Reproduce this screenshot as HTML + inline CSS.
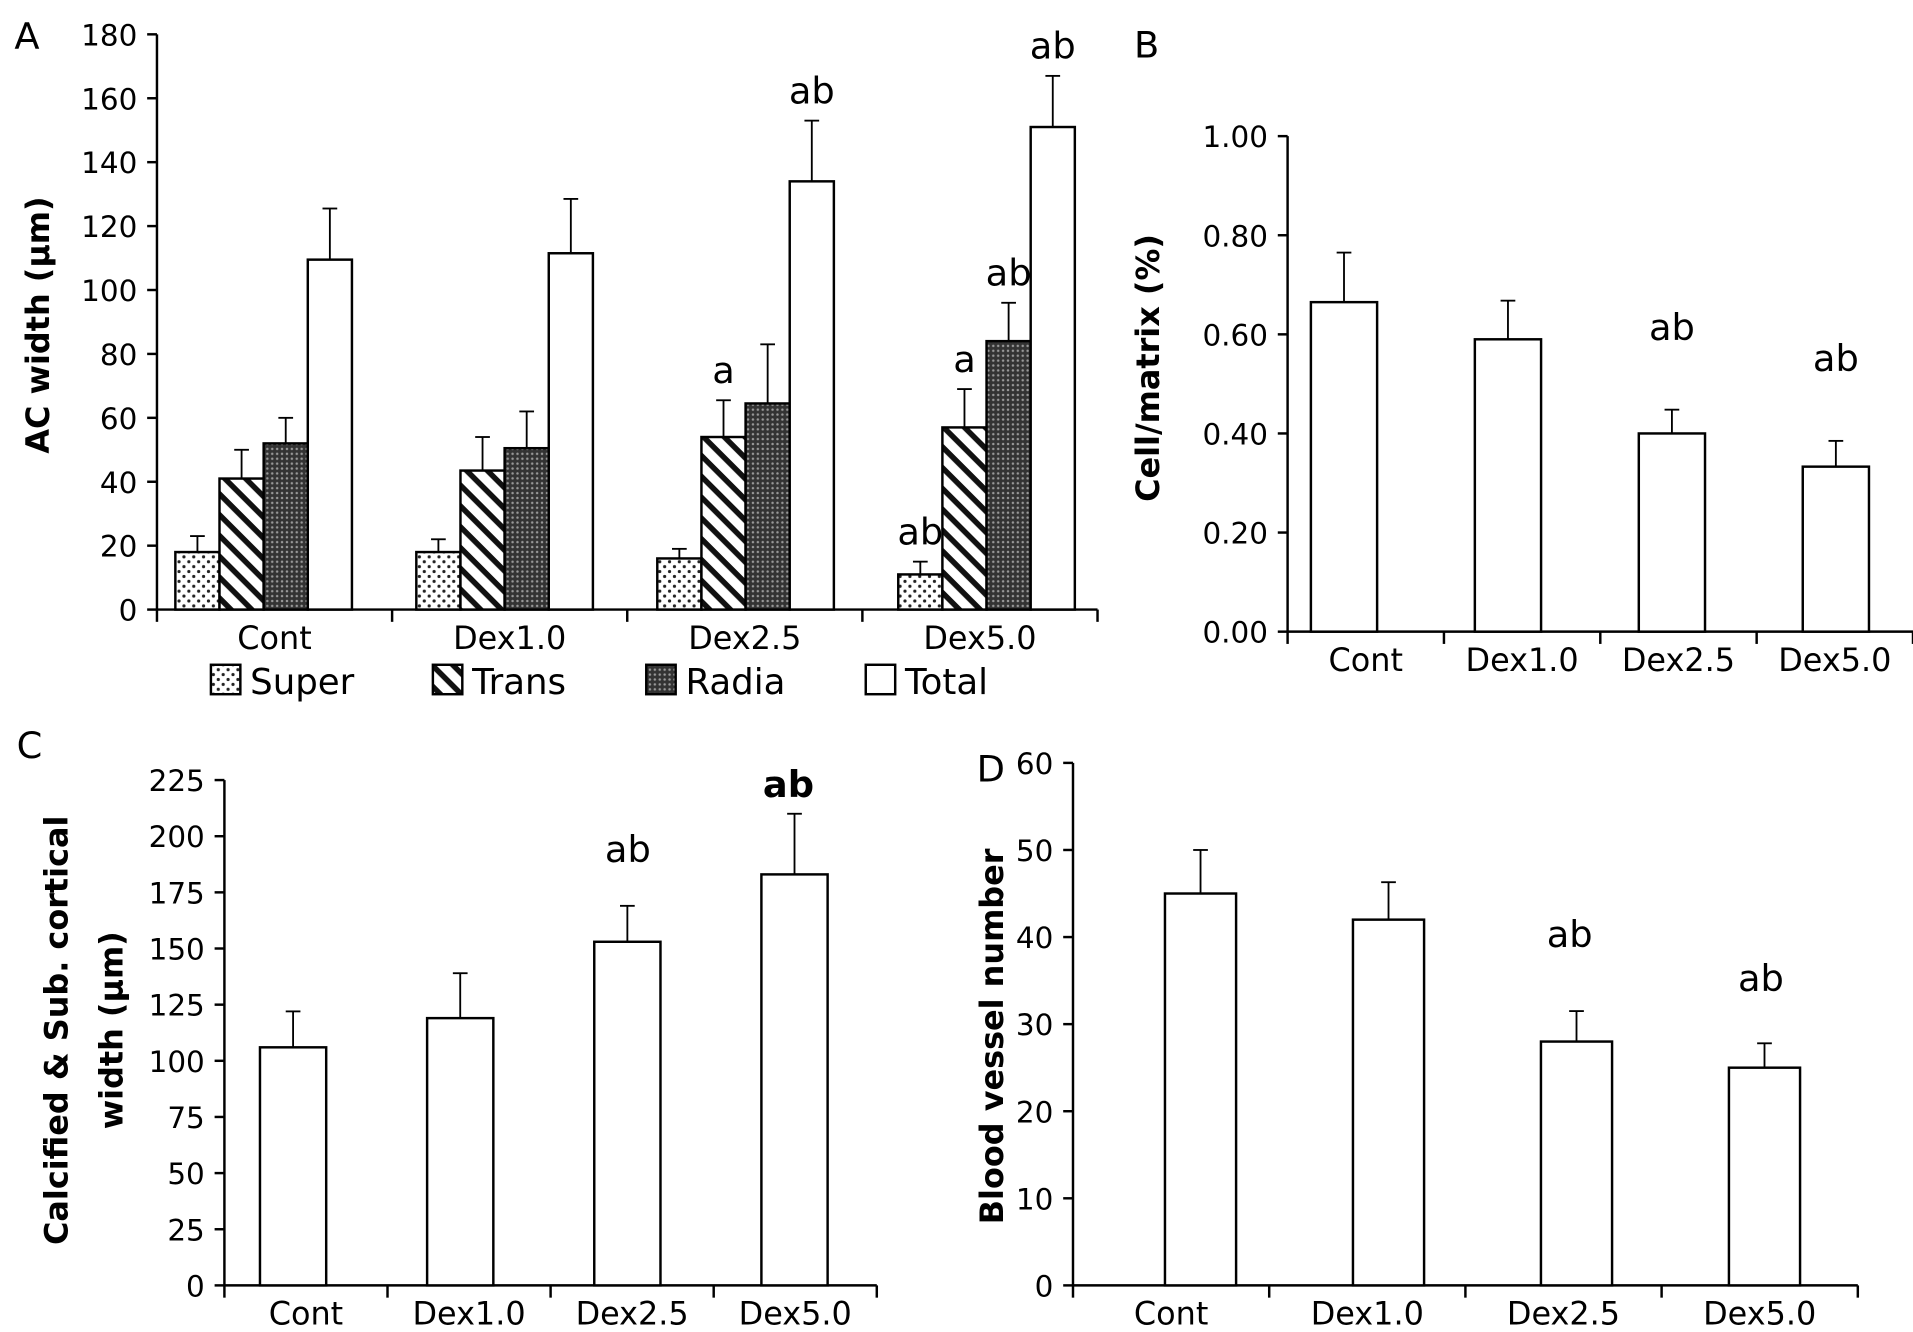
<!DOCTYPE html>
<html><head><meta charset="utf-8"><style>
html,body{margin:0;padding:0;background:#fff;}
svg{display:block;font-family:"DejaVu Sans","Liberation Sans",sans-serif;}
</style></head><body>
<svg id="fig" width="1913" height="1332" viewBox="0 0 1560 1086" preserveAspectRatio="none" xmlns="http://www.w3.org/2000/svg">
<defs>
<pattern id="pDots" width="8" height="8" patternUnits="userSpaceOnUse"><rect width="8" height="8" fill="#fff"/><circle cx="2" cy="2" r="1.3" fill="#222"/><circle cx="6" cy="6" r="1.3" fill="#222"/></pattern>
<pattern id="pDiag" width="12" height="12" patternUnits="userSpaceOnUse" patternTransform="rotate(45)"><rect width="12" height="12" fill="#fff"/><rect x="0" y="0" width="12" height="4.5" fill="#111"/></pattern>
<pattern id="pDark" width="4" height="4" patternUnits="userSpaceOnUse"><rect width="4" height="4" fill="#333"/><circle cx="2" cy="2" r="1" fill="#999"/></pattern>
</defs>
<g id="root"></g>
</svg>
<script>
// Panel A data
const catsA = ["Cont","Dex1.0","Dex2.5","Dex5.0"];
const seriesA = ["Super","Trans","Radia","Total"];
const superVals = [18,18,16,11];
const superErr = [23,22,19,15];
const transVals = [41,43.5,54,57];
const transErr = [50,54,65.5,69];
const radiaVals = [52,50.5,64.5,84];
const radiaErr = [60,62,83,96];
const totalVals = [109.5,111.5,134,151];
const totalErr = [125.5,128.5,153,167];
const ticksA = [0,20,40,60,80,100,120,140,160,180];
// Panel B
const catsB = ["Cont","Dex1.0","Dex2.5","Dex5.0"];
const valsB = [0.665,0.59,0.40,0.333];
const errB = [0.765,0.668,0.448,0.385];
const ticksB = [0,0.2,0.4,0.6,0.8,1.0];
const sigB = ["","","ab","ab"];
// Panel C
const valsC = [106,119,153,183];
const errC = [122,139,169,210];
const ticksC = [0,25,50,75,100,125,150,175,200,225];
// Panel D
const valsD = [45,42,28,25];
const errD = [50,46.3,31.5,27.8];
const ticksD = [0,10,20,30,40,50,60];

const NS="http://www.w3.org/2000/svg";
const root=document.getElementById('root');
function mk(tag,attrs,parent,text){const e=document.createElementNS(NS,tag);for(const k in attrs)e.setAttribute(k,attrs[k]);if(text!==undefined)e.textContent=text;(parent||root).appendChild(e);return e;}

function axes(cfg){
  const g=mk('g',{});
  
  
  const y=v=>cfg.y0-(v-cfg.min)/(cfg.max-cfg.min)*(cfg.y0-cfg.y1);
  const ax=mk('line',{x1:cfg.x0,y1:cfg.y1,x2:cfg.x0,y2:cfg.y0,stroke:'#000','stroke-width':2},g);
  
  
  const xa=mk('line',{x1:cfg.x0,y1:cfg.y0,x2:cfg.x2,y2:cfg.y0,stroke:'#000','stroke-width':2},g);
  
  
  cfg.ticks.forEach(t=>{
    mk('line',{x1:cfg.x0-8,x2:cfg.x0,y1:y(t),y2:y(t),stroke:'#000','stroke-width':2},g);
    const tl=mk('text',{x:cfg.x0-16,y:y(t)+9,'text-anchor':'end','font-size':24},g,cfg.fmt(t));
    
    
  });
  const n=cfg.cats.length, cw=(cfg.x2-cfg.x0)/n;
  for(let i=0;i<=n;i++){mk('line',{x1:cfg.x0+i*cw,x2:cfg.x0+i*cw,y1:cfg.y0,y2:cfg.y0+10,stroke:'#000','stroke-width':2},g);}
  cfg.cats.forEach((c,i)=>{
    const xl=mk('text',{x:cfg.x0+(i+0.5)*cw,y:cfg.y0+32,'text-anchor':'middle','font-size':26},g,c);
    
    
  });
  return {g,y,cw};
}
function bar(g,x,w,y,v,e,fill){
  const r=mk('rect',{x:x,y:y(v),width:w,height:y(0)-y(v),fill:fill,stroke:'#000','stroke-width':2},g);
  
  
  const cx=x+w/2;
  mk('line',{x1:cx,x2:cx,y1:y(v),y2:y(e),stroke:'#000','stroke-width':1.5},g);
  mk('line',{x1:cx-6,x2:cx+6,y1:y(e),y2:y(e),stroke:'#000','stroke-width':1.5},g);
}
function label(txt,x,y,size,weight,name){const t=mk('text',{x:x,y:y,'font-size':size,'font-weight':weight||'normal','text-anchor':'middle'},root,txt);return t;}
function vtitle(lines,x,cy,name){
  const t=mk('text',{transform:`translate(${x},${cy}) rotate(-90)`,'text-anchor':'middle','font-size':26,'font-weight':'bold'},root,lines);
  
  
}

// Panel A
const A=axes({name:'panel-a',x0:128,x2:895,y0:497,y1:28,min:0,max:180,ticks:ticksA,cats:catsA,fmt:t=>String(t)});
const fills=['url(#pDots)','url(#pDiag)','url(#pDark)','#fff'];
const valsA=[superVals,transVals,radiaVals,totalVals], errsA=[superErr,transErr,radiaErr,totalErr];
const gapA=196.5;
catsA.forEach((c,i)=>{
  const gx=143+i*gapA;
  for(let s=0;s<4;s++) bar(A.g,gx+s*36,36,A.y,valsA[s][i],errsA[s][i],fills[s]);
});
const sigA=[[1,2,'a'],[1,3,'a'],[2,3,'ab'],[0,3,'ab'],[3,2,'ab'],[3,3,'ab']];
sigA.forEach(([s,i,t])=>{label(t,143+i*gapA+s*36+18,A.y(errsA[s][i])-14,30,'normal','significance-label');});
label('A',22,40,30,'normal','panel-label-a');
vtitle('AC width (\u03bcm)',40,265,'y-axis-title-a');
// legend
const legX=[172,353,527,706];
seriesA.forEach((s,i)=>{
  const r=mk('rect',{x:legX[i],y:542,width:24,height:24,fill:fills[i],stroke:'#000','stroke-width':2});
  
  
  const t=mk('text',{x:legX[i]+32,y:566,'font-size':29},root,s);
  
  
});

// Panel B
const B=axes({name:'panel-b',x0:1050,x2:1560,y0:515,y1:111,min:0,max:1,ticks:ticksB,cats:catsB,fmt:t=>t.toFixed(2)});
catsB.forEach((c,i)=>{const x=1069+i*133.7;bar(B.g,x,54,B.y,valsB[i],errB[i],'#fff');if(sigB[i])label(sigB[i],x+27,B.y(errB[i])-57,30,'normal','significance-label');});
label('B',935,47,30,'normal','panel-label-b');
vtitle('Cell/matrix  (%)',945,300,'y-axis-title-b');

// Panel C
const C=axes({name:'panel-c',x0:183,x2:715,y0:1048,y1:636,min:0,max:225,ticks:ticksC,cats:catsB,fmt:t=>String(t)});
catsB.forEach((c,i)=>{const x=212+i*136.3;bar(C.g,x,54,C.y,valsC[i],errC[i],'#fff');});
label('ab',512,703,30,'normal','significance-label');
label('ab',643,650,30,'bold','significance-label');
label('C',24,618,30,'normal','panel-label-c');
vtitle('Calcified & Sub. cortical',55,840,'y-axis-title-c');
vtitle('width (\u03bcm)',100,840,'y-axis-title-c-line2');

// Panel D
const D=axes({name:'panel-d',x0:875,x2:1515,y0:1048,y1:622,min:0,max:60,ticks:ticksD,cats:catsB,fmt:t=>String(t)});
catsB.forEach((c,i)=>{const x=950+i*153.3;bar(D.g,x,58,D.y,valsD[i],errD[i],'#fff');});
label('ab',1280,772,30,'normal','significance-label');
label('ab',1436,808,30,'normal','significance-label');
label('D',808,637,30,'normal','panel-label-d');
vtitle('Blood vessel number',818,845,'y-axis-title-d');
</script>
</body></html>
